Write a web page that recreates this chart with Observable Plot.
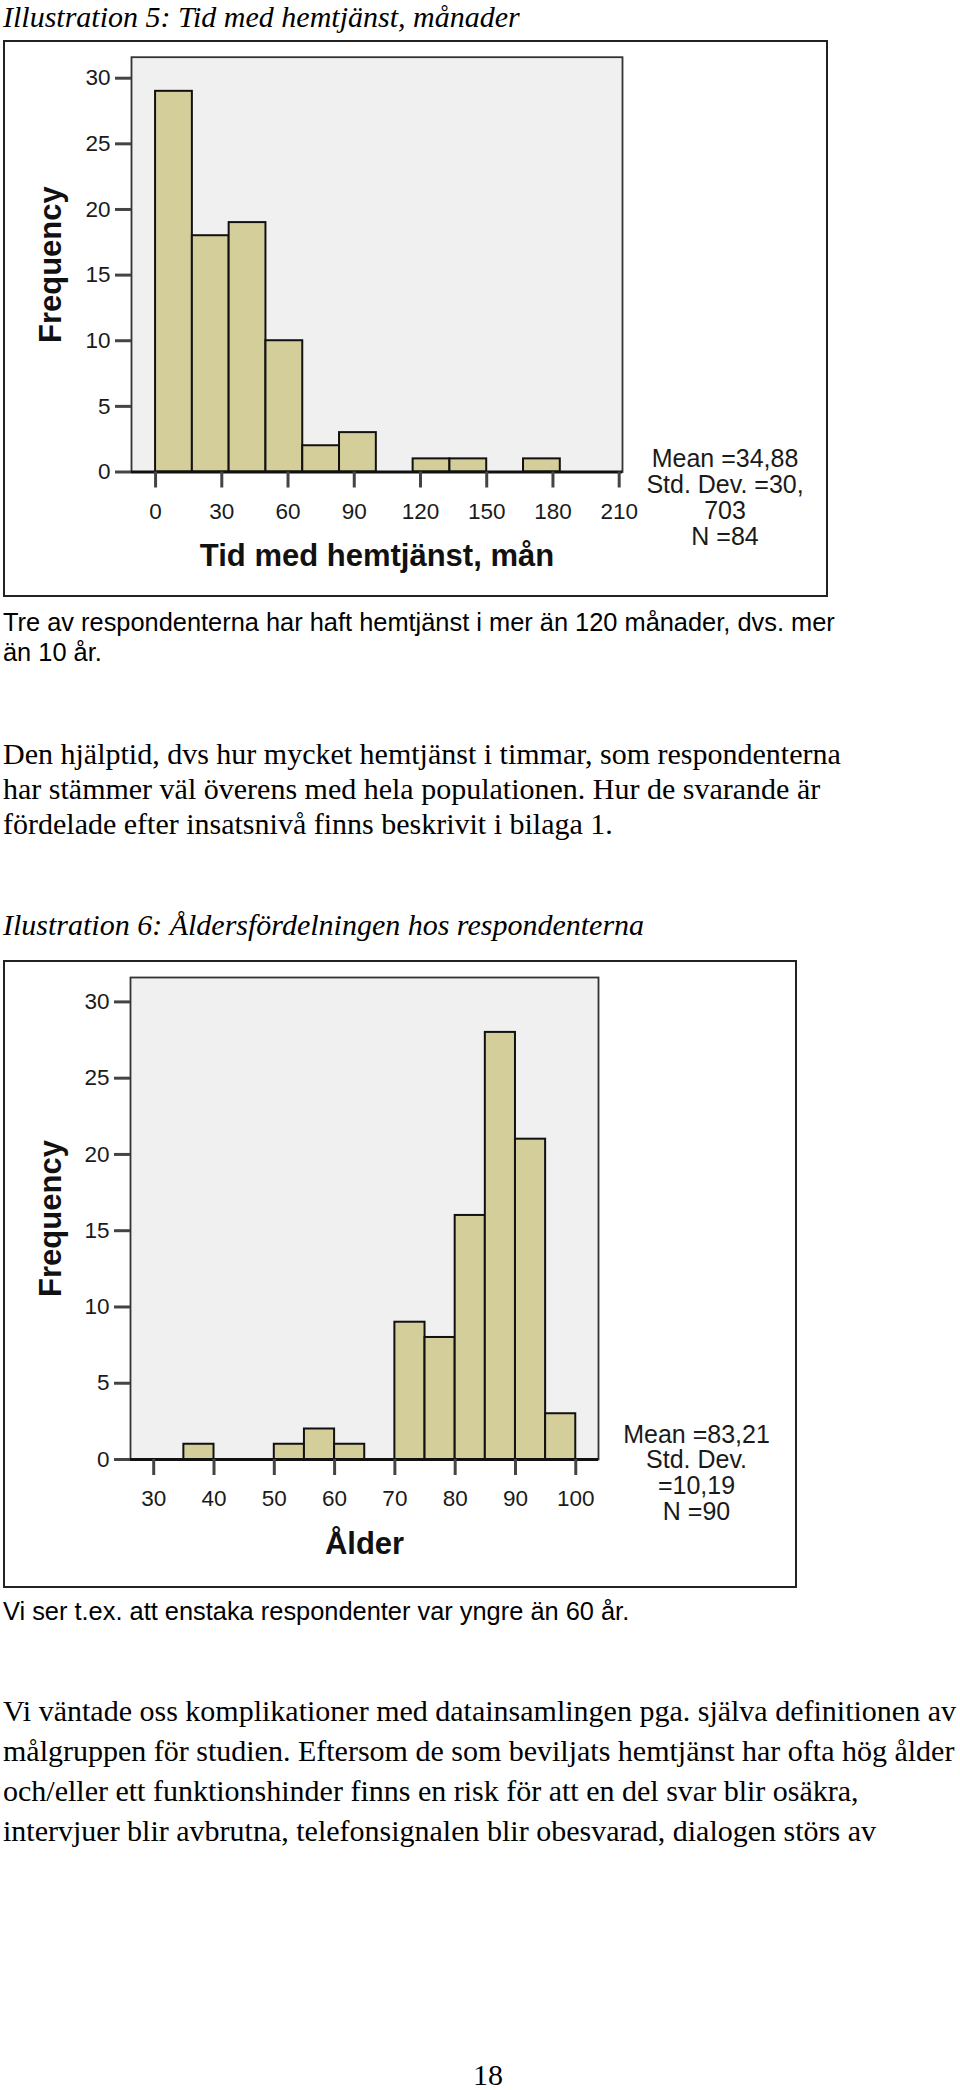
<!DOCTYPE html>
<html><head><meta charset="utf-8">
<script src="https://cdn.jsdelivr.net/npm/d3@7"></script>
<script src="https://cdn.jsdelivr.net/npm/@observablehq/plot@0.6"></script>
<style>
html,body{margin:0;padding:0;background:#fff;}
#page{position:relative;width:960px;height:2090px;overflow:hidden;background:#fff;}
.t{position:absolute;left:3px;white-space:nowrap;line-height:1;color:#000;}
.serif{font-family:"Liberation Serif","Times New Roman",serif;font-size:30px;}
.it{font-style:italic;}
.sans{font-family:"Liberation Sans",Arial,sans-serif;font-size:25.4px;}
.box{position:absolute;border:2px solid #222;background:#fff;}
.box svg{display:block;}
</style></head><body><div id="page"></div>
<script>
// ---------- data ----------
const tidBinEdges = [0, 16.67, 33.33, 50, 66.67, 83.33, 100, 116.67, 133.33, 150, 166.67, 183.33];
const tidCounts   = [29, 18, 19, 10, 2, 3, 0, 1, 1, 0, 1];
const tidTicks    = [0, 30, 60, 90, 120, 150, 180, 210];
const tidStats    = ["Mean =34,88", "Std. Dev. =30,", "703", "N =84"];
const tidLabel    = "Tid med hemtjänst, mån";

const alderBinEdges = [35, 40, 45, 50, 55, 60, 65, 70, 75, 80, 85, 90, 95, 100];
const alderCounts   = [1, 0, 0, 1, 2, 1, 0, 9, 8, 16, 28, 21, 3];
const alderTicks    = [30, 40, 50, 60, 70, 80, 90, 100];
const alderStats    = ["Mean =83,21", "Std. Dev.", "=10,19", "N =90"];
const alderLabel    = "Ålder";

const freqTicks = [0, 5, 10, 15, 20, 25, 30];
const freqLabel = "Frequency";

const title5 = "Illustration 5: Tid med hemtjänst, månader";
const title6 = "Ilustration 6: Åldersfördelningen hos respondenterna";
const caption5 = ["Tre av respondenterna har haft hemtjänst i mer än 120 månader, dvs. mer", "än 10 år."];
const para1 = ["Den hjälptid, dvs hur mycket hemtjänst i timmar, som respondenterna",
               "har stämmer väl överens med hela populationen. Hur de svarande är",
               "fördelade efter insatsnivå finns beskrivit i bilaga 1."];
const caption6 = ["Vi ser t.ex. att enstaka respondenter var yngre än 60 år."];
const para2 = ["Vi väntade oss komplikationer med datainsamlingen pga. själva definitionen av",
               "målgruppen för studien. Eftersom de som beviljats hemtjänst har ofta hög ålder",
               "och/eller ett funktionshinder finns en risk för att en del svar blir osäkra,",
               "intervjuer blir avbrutna, telefonsignalen blir obesvarad, dialogen störs av"];
const pageNumber = "18";

// ---------- layout helpers ----------
const page = document.getElementById("page");
function addLine(text, cls, baseline, extra = {}) {
  const d = document.createElement("div");
  d.className = "t " + cls;
  d.textContent = text;
  const fs = cls.includes("sans") ? 25.4 : 30;
  const k = cls.includes("sans") ? 0.8465 : 0.8375;
  d.style.top = (baseline - k * fs) + "px";
  Object.assign(d.style, extra);
  page.appendChild(d);
}

function histogram({edges, counts, ticks, xDomain, stats, xLabel, width, height, mL, mR, mT, mB, statsDx, statsDy, titleDy}) {
  const bins = counts.map((c, i) => ({x1: edges[i], x2: edges[i + 1], n: c})).filter(d => d.n > 0);
  return Plot.plot({
    width, height,
    marginLeft: mL, marginRight: mR, marginTop: mT, marginBottom: mB,
    x: {domain: xDomain, axis: null, label: null},
    y: {domain: [0, 31.6], axis: null, label: null},
    style: {fontFamily: "'Liberation Sans', Arial, sans-serif", fontSize: "22.5px", color: "#1a1a1a", background: "white", overflow: "visible"},
    marks: [
      Plot.frame({fill: "#f0f0f0", stroke: "#333", strokeWidth: 1.8}),
      Plot.rectY(bins, {x1: "x1", x2: "x2", y: "n", inset: 0, fill: "#d3ce9a", stroke: "#111", strokeWidth: 2}),
      Plot.ruleY([0], {stroke: "#111", strokeWidth: 3}),
      Plot.axisY(freqTicks, {anchor: "left", tickSize: 16, tickPadding: 5, strokeWidth: 3, stroke: "#444", fill: "#1a1a1a", fontSize: 22.5, label: null}),
      Plot.axisX(ticks, {anchor: "bottom", tickSize: 16, tickPadding: 15, strokeWidth: 3, stroke: "#444", fill: "#1a1a1a", fontSize: 22.5, label: null}),
      Plot.text([xLabel], {frameAnchor: "bottom", textAnchor: "middle", dy: titleDy, lineAnchor: "bottom", fontSize: 31, fontWeight: "bold", fill: "#111"}),
      Plot.text([freqLabel], {frameAnchor: "left", textAnchor: "middle", rotate: -90, dx: 55 - mL, lineAnchor: "bottom", fontSize: 31, fontWeight: "bold", fill: "#111"}),
      Plot.text([stats.join("\n")], {frameAnchor: "bottom-right", dx: statsDx, dy: statsDy, lineAnchor: "bottom", textAnchor: "middle", fontSize: 25, lineHeight: 1.03, fill: "#1a1a1a"})
    ]
  });
}

function addBox(left, top, w, h, svg) {
  const b = document.createElement("div");
  b.className = "box";
  b.style.left = left + "px"; b.style.top = top + "px";
  b.style.width = w + "px"; b.style.height = h + "px";
  b.appendChild(svg);
  page.appendChild(b);
}

// ---------- page ----------
addLine(title5, "serif it", 27);

addBox(3, 40, 821, 553, histogram({
  edges: tidBinEdges, counts: tidCounts, ticks: tidTicks, xDomain: [-10.9, 211.5],
  stats: tidStats, xLabel: tidLabel, width: 821, height: 553,
  mL: 126, mR: 204, mT: 14.7, mB: 123.5, statsDx: 102.5, statsDy: 72.5, titleDy: 94
}));

addLine(caption5[0], "sans", 631.7);
addLine(caption5[1], "sans", 661.7);

addLine(para1[0], "serif", 764.5);
addLine(para1[1], "serif", 799.5);
addLine(para1[2], "serif", 834);

addLine(title6, "serif it", 935);

addBox(3, 960, 790, 624, histogram({
  edges: alderBinEdges, counts: alderCounts, ticks: alderTicks, xDomain: [26.15, 103.77],
  stats: alderStats, xLabel: alderLabel, width: 790, height: 624,
  mL: 125, mR: 197, mT: 15, mB: 127, statsDx: 98, statsDy: 60.3, titleDy: 94.5
}));

addLine(caption6[0], "sans", 1620.7);

addLine(para2[0], "serif", 1721);
addLine(para2[1], "serif", 1761);
addLine(para2[2], "serif", 1801);
addLine(para2[3], "serif", 1841);

addLine(pageNumber, "serif", 2085, {left: "438px", width: "100px", textAlign: "center"});
</script>
</body></html>
